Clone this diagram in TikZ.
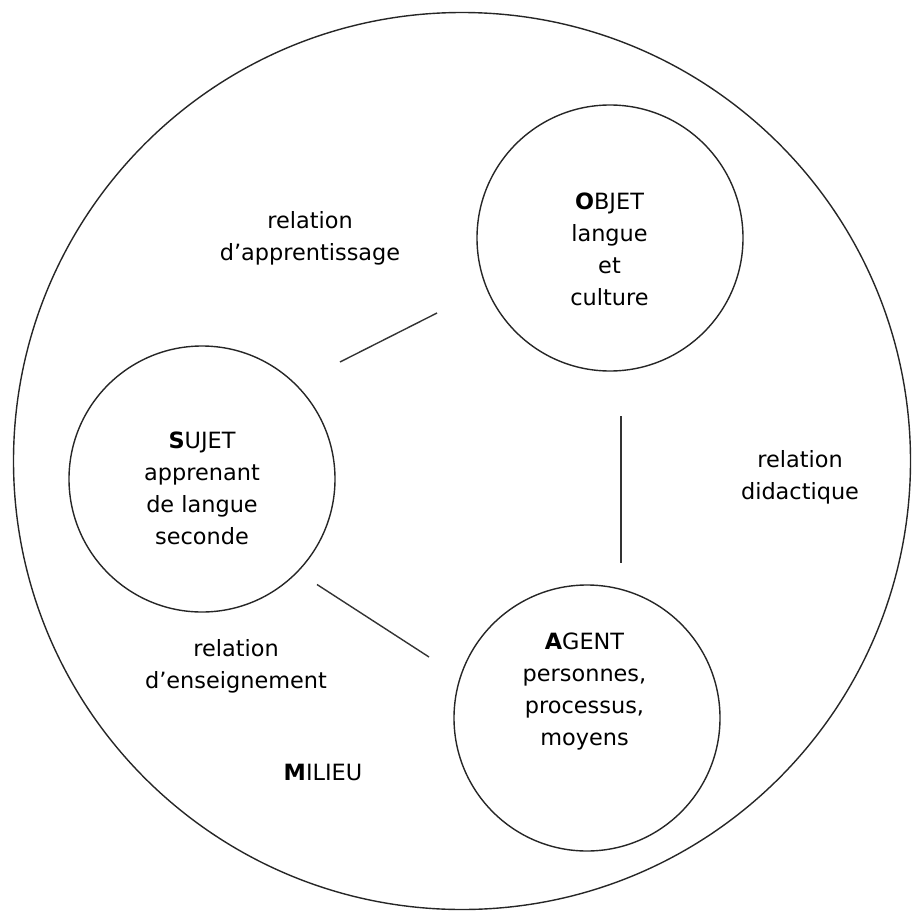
\documentclass[tikz,border=0pt]{standalone}
\usepackage{fontspec}
\setmainfont{DejaVu Sans}
\begin{document}
\begin{tikzpicture}[x=1pt,y=-1pt,
  ring/.style={draw=black!85, line width=1.4pt, circle, inner sep=0pt, minimum size=#1},
  lbl/.style={align=center, font=\fontsize{22.4}{32}\selectfont, inner sep=0pt},
  link/.style={draw=black!80, line width=1.4pt}]
\useasboundingbox (0,0) rectangle (912,918);
\node[ring=897pt] (milieu) at (462,461) {};
\node[ring=266pt] (objet) at (610,238) {};
\node[ring=266pt] (sujet) at (202,479) {};
\node[ring=266pt] (agent) at (587,718) {};
\node[lbl] (tobjet) at (609.5,249) {\textbf{O}BJET\\langue\\et\\culture};
\node[lbl] (tsujet) at (202,488) {\textbf{S}UJET\\apprenant\\de langue\\seconde};
\node[lbl] (tagent) at (584.5,692) {\textbf{A}GENT\\personnes,\\processus,\\moyens};
\node[lbl] (rapp) at (310,238) {relation\\d’apprentissage};
\node[lbl] (rdid) at (800,477) {relation\\didactique};
\node[lbl] (rens) at (236,666) {relation\\d’enseignement};
\node[lbl] (tmil) at (323,772) {\textbf{M}ILIEU};
\coordinate (l1a) at (340,362);
\coordinate (l1b) at (437,313);
\coordinate (l2a) at (621,416);
\coordinate (l2b) at (621,563);
\coordinate (l3a) at (317,584.5);
\coordinate (l3b) at (429,657);
\draw[link] (l1a) -- (l1b);
\draw[link] (l2a) -- (l2b);
\draw[link] (l3a) -- (l3b);
\end{tikzpicture}
\end{document}
